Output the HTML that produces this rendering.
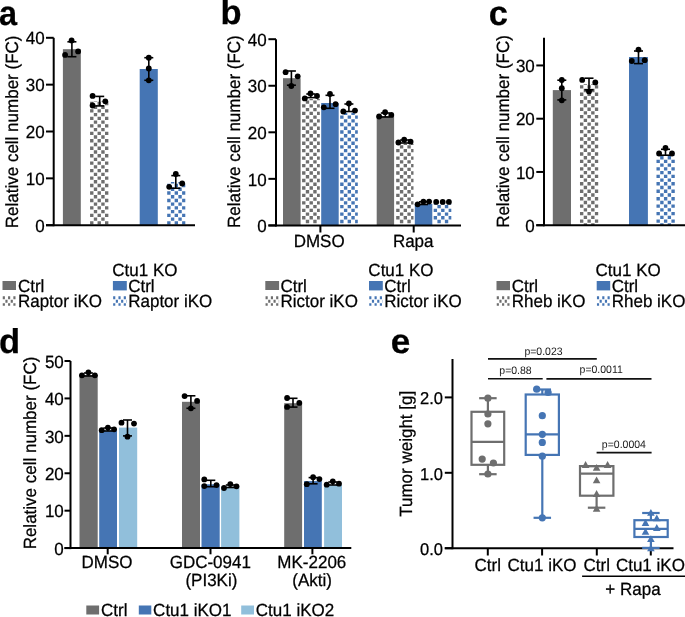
<!DOCTYPE html>
<html><head><meta charset="utf-8"><title>Figure</title>
<style>
html,body{margin:0;padding:0;background:#fff;}
text{stroke:#000;stroke-width:0.25px;}
svg{display:block;font-family:"Liberation Sans",sans-serif;will-change:transform;text-rendering:geometricPrecision;}
</style></head>
<body>
<svg width="685" height="617" viewBox="0 0 685 617">
<defs></defs>
<rect width="685" height="617" fill="#fff"/>
<text x="0" y="0" font-size="34.5" font-weight="bold" transform="translate(-0.9 24.8) scale(0.94 1)">a</text>
<text x="0" y="0" font-size="34.5" font-weight="bold" transform="translate(220.6 24.3) scale(1.0 1)">b</text>
<text x="0" y="0" font-size="34.5" font-weight="bold" transform="translate(488.8 25.1) scale(1.0 1)">c</text>
<text x="0" y="0" font-size="34.5" font-weight="bold" transform="translate(-1 352.6) scale(1.0 1)">d</text>
<text x="0" y="0" font-size="34.5" font-weight="bold" transform="translate(390.7 352.6) scale(1.02 1)">e</text>
<rect x="62.9" y="49.2" width="17.9" height="176" fill="#6e6e6e"/>
<path fill="#6e6e6e" d="M90.08 221.15H93.45V224.52H90.08ZM97.54 221.15H100.91V224.52H97.54ZM105 221.15H108.37V224.52H105ZM93.81 217.42H97.18V220.79H93.81ZM101.27 217.42H104.64V220.79H101.27ZM90.08 213.69H93.45V217.06H90.08ZM97.54 213.69H100.91V217.06H97.54ZM105 213.69H108.37V217.06H105ZM93.81 209.96H97.18V213.33H93.81ZM101.27 209.96H104.64V213.33H101.27ZM90.08 206.23H93.45V209.6H90.08ZM97.54 206.23H100.91V209.6H97.54ZM105 206.23H108.37V209.6H105ZM93.81 202.5H97.18V205.87H93.81ZM101.27 202.5H104.64V205.87H101.27ZM90.08 198.77H93.45V202.14H90.08ZM97.54 198.77H100.91V202.14H97.54ZM105 198.77H108.37V202.14H105ZM93.81 195.04H97.18V198.41H93.81ZM101.27 195.04H104.64V198.41H101.27ZM90.08 191.31H93.45V194.68H90.08ZM97.54 191.31H100.91V194.68H97.54ZM105 191.31H108.37V194.68H105ZM93.81 187.58H97.18V190.95H93.81ZM101.27 187.58H104.64V190.95H101.27ZM90.08 183.85H93.45V187.22H90.08ZM97.54 183.85H100.91V187.22H97.54ZM105 183.85H108.37V187.22H105ZM93.81 180.12H97.18V183.49H93.81ZM101.27 180.12H104.64V183.49H101.27ZM90.08 176.39H93.45V179.76H90.08ZM97.54 176.39H100.91V179.76H97.54ZM105 176.39H108.37V179.76H105ZM93.81 172.66H97.18V176.03H93.81ZM101.27 172.66H104.64V176.03H101.27ZM90.08 168.93H93.45V172.3H90.08ZM97.54 168.93H100.91V172.3H97.54ZM105 168.93H108.37V172.3H105ZM93.81 165.2H97.18V168.57H93.81ZM101.27 165.2H104.64V168.57H101.27ZM90.08 161.47H93.45V164.84H90.08ZM97.54 161.47H100.91V164.84H97.54ZM105 161.47H108.37V164.84H105ZM93.81 157.74H97.18V161.11H93.81ZM101.27 157.74H104.64V161.11H101.27ZM90.08 154.01H93.45V157.38H90.08ZM97.54 154.01H100.91V157.38H97.54ZM105 154.01H108.37V157.38H105ZM93.81 150.28H97.18V153.65H93.81ZM101.27 150.28H104.64V153.65H101.27ZM90.08 146.55H93.45V149.92H90.08ZM97.54 146.55H100.91V149.92H97.54ZM105 146.55H108.37V149.92H105ZM93.81 142.82H97.18V146.19H93.81ZM101.27 142.82H104.64V146.19H101.27ZM90.08 139.09H93.45V142.46H90.08ZM97.54 139.09H100.91V142.46H97.54ZM105 139.09H108.37V142.46H105ZM93.81 135.36H97.18V138.73H93.81ZM101.27 135.36H104.64V138.73H101.27ZM90.08 131.63H93.45V135H90.08ZM97.54 131.63H100.91V135H97.54ZM105 131.63H108.37V135H105ZM93.81 127.9H97.18V131.27H93.81ZM101.27 127.9H104.64V131.27H101.27ZM90.08 124.17H93.45V127.54H90.08ZM97.54 124.17H100.91V127.54H97.54ZM105 124.17H108.37V127.54H105ZM93.81 120.44H97.18V123.81H93.81ZM101.27 120.44H104.64V123.81H101.27ZM90.08 116.71H93.45V120.08H90.08ZM97.54 116.71H100.91V120.08H97.54ZM105 116.71H108.37V120.08H105ZM93.81 112.98H97.18V116.35H93.81ZM101.27 112.98H104.64V116.35H101.27ZM90.08 109.25H93.45V112.62H90.08ZM97.54 109.25H100.91V112.62H97.54ZM105 109.25H108.37V112.62H105ZM93.81 105.52H97.18V108.89H93.81ZM101.27 105.52H104.64V108.89H101.27ZM90.08 101.79H93.45V105.16H90.08ZM97.54 101.79H100.91V105.16H97.54ZM105 101.79H108.37V105.16H105ZM93.81 101H97.18V101.43H93.81ZM101.27 101H104.64V101.43H101.27Z"/>
<rect x="139.7" y="69" width="18.1" height="156.2" fill="#4575b4"/>
<path fill="#4575b4" d="M167.18 221.15H170.55V224.52H167.18ZM174.64 221.15H178.01V224.52H174.64ZM182.1 221.15H185.3V224.52H182.1ZM170.91 217.42H174.28V220.79H170.91ZM178.37 217.42H181.74V220.79H178.37ZM167.18 213.69H170.55V217.06H167.18ZM174.64 213.69H178.01V217.06H174.64ZM182.1 213.69H185.3V217.06H182.1ZM170.91 209.96H174.28V213.33H170.91ZM178.37 209.96H181.74V213.33H178.37ZM167.18 206.23H170.55V209.6H167.18ZM174.64 206.23H178.01V209.6H174.64ZM182.1 206.23H185.3V209.6H182.1ZM170.91 202.5H174.28V205.87H170.91ZM178.37 202.5H181.74V205.87H178.37ZM167.18 198.77H170.55V202.14H167.18ZM174.64 198.77H178.01V202.14H174.64ZM182.1 198.77H185.3V202.14H182.1ZM170.91 195.04H174.28V198.41H170.91ZM178.37 195.04H181.74V198.41H178.37ZM167.18 191.31H170.55V194.68H167.18ZM174.64 191.31H178.01V194.68H174.64ZM182.1 191.31H185.3V194.68H182.1ZM170.91 187.58H174.28V190.95H170.91ZM178.37 187.58H181.74V190.95H178.37ZM167.18 183.85H170.55V187.22H167.18ZM174.64 183.85H178.01V187.22H174.64ZM182.1 183.85H185.3V187.22H182.1ZM170.91 181.9H174.28V183.49H170.91ZM178.37 181.9H181.74V183.49H178.37Z"/>
<line x1="53.7" y1="37.8" x2="53.7" y2="226.2" stroke="#000" stroke-width="2"/>
<line x1="46" y1="225.2" x2="53.7" y2="225.2" stroke="#000" stroke-width="2"/>
<text x="0" y="0" transform="translate(44.6 231.89) scale(1 1.04)" font-size="17" text-anchor="end" font-weight="normal" fill="#000">0</text>
<line x1="46" y1="178.35" x2="53.7" y2="178.35" stroke="#000" stroke-width="2"/>
<text x="0" y="0" transform="translate(44.6 185.04) scale(1 1.04)" font-size="17" text-anchor="end" font-weight="normal" fill="#000">10</text>
<line x1="46" y1="131.5" x2="53.7" y2="131.5" stroke="#000" stroke-width="2"/>
<text x="0" y="0" transform="translate(44.6 138.19) scale(1 1.04)" font-size="17" text-anchor="end" font-weight="normal" fill="#000">20</text>
<line x1="46" y1="84.65" x2="53.7" y2="84.65" stroke="#000" stroke-width="2"/>
<text x="0" y="0" transform="translate(44.6 91.34) scale(1 1.04)" font-size="17" text-anchor="end" font-weight="normal" fill="#000">30</text>
<line x1="46" y1="37.8" x2="53.7" y2="37.8" stroke="#000" stroke-width="2"/>
<text x="0" y="0" transform="translate(44.6 44.49) scale(1 1.04)" font-size="17" text-anchor="end" font-weight="normal" fill="#000">40</text>
<line x1="46" y1="225.2" x2="195" y2="225.2" stroke="#000" stroke-width="2"/>
<text x="0" y="0" font-size="17" text-anchor="middle" transform="translate(17.5 131.9) rotate(-90) scale(1 1.04)">Relative cell number (FC)</text>
<line x1="71.9" y1="41.8" x2="71.9" y2="56.7" stroke="#000" stroke-width="1.6"/>
<line x1="67.4" y1="41.8" x2="76.4" y2="41.8" stroke="#000" stroke-width="1.6"/>
<line x1="67.4" y1="56.7" x2="76.4" y2="56.7" stroke="#000" stroke-width="1.6"/>
<circle cx="71.6" cy="40.4" r="2.9" fill="#000"/>
<circle cx="65.1" cy="54.9" r="2.9" fill="#000"/>
<circle cx="78.1" cy="51.4" r="2.9" fill="#000"/>
<line x1="99.7" y1="96.4" x2="99.7" y2="105.9" stroke="#000" stroke-width="1.6"/>
<line x1="95.2" y1="96.4" x2="104.2" y2="96.4" stroke="#000" stroke-width="1.6"/>
<line x1="95.2" y1="105.9" x2="104.2" y2="105.9" stroke="#000" stroke-width="1.6"/>
<circle cx="92.6" cy="95.9" r="2.9" fill="#000"/>
<circle cx="105.3" cy="101.3" r="2.9" fill="#000"/>
<circle cx="92.6" cy="105.5" r="2.9" fill="#000"/>
<line x1="148.8" y1="57.7" x2="148.8" y2="80.3" stroke="#000" stroke-width="1.6"/>
<line x1="144.3" y1="57.7" x2="153.3" y2="57.7" stroke="#000" stroke-width="1.6"/>
<line x1="144.3" y1="80.3" x2="153.3" y2="80.3" stroke="#000" stroke-width="1.6"/>
<circle cx="148.8" cy="57.7" r="2.9" fill="#000"/>
<circle cx="148.8" cy="68.5" r="2.9" fill="#000"/>
<circle cx="148.8" cy="80.3" r="2.9" fill="#000"/>
<line x1="175.8" y1="175.6" x2="175.8" y2="188.2" stroke="#000" stroke-width="1.6"/>
<line x1="171.3" y1="175.6" x2="180.3" y2="175.6" stroke="#000" stroke-width="1.6"/>
<line x1="171.3" y1="188.2" x2="180.3" y2="188.2" stroke="#000" stroke-width="1.6"/>
<circle cx="175.8" cy="174" r="2.9" fill="#000"/>
<circle cx="182.2" cy="183.5" r="2.9" fill="#000"/>
<circle cx="169.2" cy="186.8" r="2.9" fill="#000"/>
<rect x="2.5" y="281" width="13.5" height="9" fill="#6e6e6e"/>
<text x="0" y="0" transform="translate(17.9 291.5) scale(1 1.04)" font-size="17" text-anchor="start" font-weight="normal" fill="#000">Ctrl</text>
<path fill="#6e6e6e" d="M2.75 296.35H4.9V299.35H2.75ZM8.05 296.35H10.2V299.35H8.05ZM13.35 296.35H15.5V299.35H13.35ZM5.4 299.85H7.55V302.85H5.4ZM10.7 299.85H12.85V302.85H10.7ZM2.75 303.35H4.9V305.8H2.75ZM8.05 303.35H10.2V305.8H8.05ZM13.35 303.35H15.5V305.8H13.35Z"/>
<text x="0" y="0" transform="translate(17.9 306.9) scale(1 1.04)" font-size="17" text-anchor="start" font-weight="normal" fill="#000">Raptor iKO</text>
<text x="0" y="0" transform="translate(112.3 276.4) scale(1 1.04)" font-size="17" text-anchor="start" font-weight="normal" fill="#000">Ctu1 KO</text>
<rect x="112.9" y="281" width="13.9" height="9.4" fill="#4575b4"/>
<text x="0" y="0" transform="translate(128.2 291.5) scale(1 1.04)" font-size="17" text-anchor="start" font-weight="normal" fill="#000">Ctrl</text>
<path fill="#4575b4" d="M113.15 296.35H115.3V299.35H113.15ZM118.45 296.35H120.6V299.35H118.45ZM123.75 296.35H125.9V299.35H123.75ZM115.8 299.85H117.95V302.85H115.8ZM121.1 299.85H123.25V302.85H121.1ZM126.4 299.85H126.8V302.85H126.4ZM113.15 303.35H115.3V305.8H113.15ZM118.45 303.35H120.6V305.8H118.45ZM123.75 303.35H125.9V305.8H123.75Z"/>
<text x="0" y="0" transform="translate(128.2 306.9) scale(1 1.04)" font-size="17" text-anchor="start" font-weight="normal" fill="#000">Raptor iKO</text>
<rect x="283" y="78.2" width="17.6" height="147.2" fill="#6e6e6e"/>
<path fill="#6e6e6e" d="M305.81 219.85H309.18V223.22H305.81ZM313.27 219.85H316.64V223.22H313.27ZM302.08 216.12H305.45V219.49H302.08ZM309.54 216.12H312.91V219.49H309.54ZM317 216.12H319.8V219.49H317ZM305.81 212.39H309.18V215.76H305.81ZM313.27 212.39H316.64V215.76H313.27ZM302.08 208.66H305.45V212.03H302.08ZM309.54 208.66H312.91V212.03H309.54ZM317 208.66H319.8V212.03H317ZM305.81 204.93H309.18V208.3H305.81ZM313.27 204.93H316.64V208.3H313.27ZM302.08 201.2H305.45V204.57H302.08ZM309.54 201.2H312.91V204.57H309.54ZM317 201.2H319.8V204.57H317ZM305.81 197.47H309.18V200.84H305.81ZM313.27 197.47H316.64V200.84H313.27ZM302.08 193.74H305.45V197.11H302.08ZM309.54 193.74H312.91V197.11H309.54ZM317 193.74H319.8V197.11H317ZM305.81 190.01H309.18V193.38H305.81ZM313.27 190.01H316.64V193.38H313.27ZM302.08 186.28H305.45V189.65H302.08ZM309.54 186.28H312.91V189.65H309.54ZM317 186.28H319.8V189.65H317ZM305.81 182.55H309.18V185.92H305.81ZM313.27 182.55H316.64V185.92H313.27ZM302.08 178.82H305.45V182.19H302.08ZM309.54 178.82H312.91V182.19H309.54ZM317 178.82H319.8V182.19H317ZM305.81 175.09H309.18V178.46H305.81ZM313.27 175.09H316.64V178.46H313.27ZM302.08 171.36H305.45V174.73H302.08ZM309.54 171.36H312.91V174.73H309.54ZM317 171.36H319.8V174.73H317ZM305.81 167.63H309.18V171H305.81ZM313.27 167.63H316.64V171H313.27ZM302.08 163.9H305.45V167.27H302.08ZM309.54 163.9H312.91V167.27H309.54ZM317 163.9H319.8V167.27H317ZM305.81 160.17H309.18V163.54H305.81ZM313.27 160.17H316.64V163.54H313.27ZM302.08 156.44H305.45V159.81H302.08ZM309.54 156.44H312.91V159.81H309.54ZM317 156.44H319.8V159.81H317ZM305.81 152.71H309.18V156.08H305.81ZM313.27 152.71H316.64V156.08H313.27ZM302.08 148.98H305.45V152.35H302.08ZM309.54 148.98H312.91V152.35H309.54ZM317 148.98H319.8V152.35H317ZM305.81 145.25H309.18V148.62H305.81ZM313.27 145.25H316.64V148.62H313.27ZM302.08 141.52H305.45V144.89H302.08ZM309.54 141.52H312.91V144.89H309.54ZM317 141.52H319.8V144.89H317ZM305.81 137.79H309.18V141.16H305.81ZM313.27 137.79H316.64V141.16H313.27ZM302.08 134.06H305.45V137.43H302.08ZM309.54 134.06H312.91V137.43H309.54ZM317 134.06H319.8V137.43H317ZM305.81 130.33H309.18V133.7H305.81ZM313.27 130.33H316.64V133.7H313.27ZM302.08 126.6H305.45V129.97H302.08ZM309.54 126.6H312.91V129.97H309.54ZM317 126.6H319.8V129.97H317ZM305.81 122.87H309.18V126.24H305.81ZM313.27 122.87H316.64V126.24H313.27ZM302.08 119.14H305.45V122.51H302.08ZM309.54 119.14H312.91V122.51H309.54ZM317 119.14H319.8V122.51H317ZM305.81 115.41H309.18V118.78H305.81ZM313.27 115.41H316.64V118.78H313.27ZM302.08 111.68H305.45V115.05H302.08ZM309.54 111.68H312.91V115.05H309.54ZM317 111.68H319.8V115.05H317ZM305.81 107.95H309.18V111.32H305.81ZM313.27 107.95H316.64V111.32H313.27ZM302.08 104.22H305.45V107.59H302.08ZM309.54 104.22H312.91V107.59H309.54ZM317 104.22H319.8V107.59H317ZM305.81 100.49H309.18V103.86H305.81ZM313.27 100.49H316.64V103.86H313.27ZM302.08 98.9H305.45V100.13H302.08ZM309.54 98.9H312.91V100.13H309.54ZM317 98.9H319.8V100.13H317Z"/>
<rect x="321.2" y="103" width="17.5" height="122.4" fill="#4575b4"/>
<path fill="#4575b4" d="M340.18 219.85H343.55V223.22H340.18ZM347.64 219.85H351.01V223.22H347.64ZM355.1 219.85H357.8V223.22H355.1ZM343.91 216.12H347.28V219.49H343.91ZM351.37 216.12H354.74V219.49H351.37ZM340.18 212.39H343.55V215.76H340.18ZM347.64 212.39H351.01V215.76H347.64ZM355.1 212.39H357.8V215.76H355.1ZM343.91 208.66H347.28V212.03H343.91ZM351.37 208.66H354.74V212.03H351.37ZM340.18 204.93H343.55V208.3H340.18ZM347.64 204.93H351.01V208.3H347.64ZM355.1 204.93H357.8V208.3H355.1ZM343.91 201.2H347.28V204.57H343.91ZM351.37 201.2H354.74V204.57H351.37ZM340.18 197.47H343.55V200.84H340.18ZM347.64 197.47H351.01V200.84H347.64ZM355.1 197.47H357.8V200.84H355.1ZM343.91 193.74H347.28V197.11H343.91ZM351.37 193.74H354.74V197.11H351.37ZM340.18 190.01H343.55V193.38H340.18ZM347.64 190.01H351.01V193.38H347.64ZM355.1 190.01H357.8V193.38H355.1ZM343.91 186.28H347.28V189.65H343.91ZM351.37 186.28H354.74V189.65H351.37ZM340.18 182.55H343.55V185.92H340.18ZM347.64 182.55H351.01V185.92H347.64ZM355.1 182.55H357.8V185.92H355.1ZM343.91 178.82H347.28V182.19H343.91ZM351.37 178.82H354.74V182.19H351.37ZM340.18 175.09H343.55V178.46H340.18ZM347.64 175.09H351.01V178.46H347.64ZM355.1 175.09H357.8V178.46H355.1ZM343.91 171.36H347.28V174.73H343.91ZM351.37 171.36H354.74V174.73H351.37ZM340.18 167.63H343.55V171H340.18ZM347.64 167.63H351.01V171H347.64ZM355.1 167.63H357.8V171H355.1ZM343.91 163.9H347.28V167.27H343.91ZM351.37 163.9H354.74V167.27H351.37ZM340.18 160.17H343.55V163.54H340.18ZM347.64 160.17H351.01V163.54H347.64ZM355.1 160.17H357.8V163.54H355.1ZM343.91 156.44H347.28V159.81H343.91ZM351.37 156.44H354.74V159.81H351.37ZM340.18 152.71H343.55V156.08H340.18ZM347.64 152.71H351.01V156.08H347.64ZM355.1 152.71H357.8V156.08H355.1ZM343.91 148.98H347.28V152.35H343.91ZM351.37 148.98H354.74V152.35H351.37ZM340.18 145.25H343.55V148.62H340.18ZM347.64 145.25H351.01V148.62H347.64ZM355.1 145.25H357.8V148.62H355.1ZM343.91 141.52H347.28V144.89H343.91ZM351.37 141.52H354.74V144.89H351.37ZM340.18 137.79H343.55V141.16H340.18ZM347.64 137.79H351.01V141.16H347.64ZM355.1 137.79H357.8V141.16H355.1ZM343.91 134.06H347.28V137.43H343.91ZM351.37 134.06H354.74V137.43H351.37ZM340.18 130.33H343.55V133.7H340.18ZM347.64 130.33H351.01V133.7H347.64ZM355.1 130.33H357.8V133.7H355.1ZM343.91 126.6H347.28V129.97H343.91ZM351.37 126.6H354.74V129.97H351.37ZM340.18 122.87H343.55V126.24H340.18ZM347.64 122.87H351.01V126.24H347.64ZM355.1 122.87H357.8V126.24H355.1ZM343.91 119.14H347.28V122.51H343.91ZM351.37 119.14H354.74V122.51H351.37ZM340.18 115.41H343.55V118.78H340.18ZM347.64 115.41H351.01V118.78H347.64ZM355.1 115.41H357.8V118.78H355.1ZM343.91 112.7H347.28V115.05H343.91ZM351.37 112.7H354.74V115.05H351.37Z"/>
<rect x="376.7" y="116.2" width="17.4" height="109.2" fill="#6e6e6e"/>
<path fill="#6e6e6e" d="M399.91 219.85H403.28V223.22H399.91ZM407.37 219.85H410.74V223.22H407.37ZM396.18 216.12H399.55V219.49H396.18ZM403.64 216.12H407.01V219.49H403.64ZM411.1 216.12H413.5V219.49H411.1ZM399.91 212.39H403.28V215.76H399.91ZM407.37 212.39H410.74V215.76H407.37ZM396.18 208.66H399.55V212.03H396.18ZM403.64 208.66H407.01V212.03H403.64ZM411.1 208.66H413.5V212.03H411.1ZM399.91 204.93H403.28V208.3H399.91ZM407.37 204.93H410.74V208.3H407.37ZM396.18 201.2H399.55V204.57H396.18ZM403.64 201.2H407.01V204.57H403.64ZM411.1 201.2H413.5V204.57H411.1ZM399.91 197.47H403.28V200.84H399.91ZM407.37 197.47H410.74V200.84H407.37ZM396.18 193.74H399.55V197.11H396.18ZM403.64 193.74H407.01V197.11H403.64ZM411.1 193.74H413.5V197.11H411.1ZM399.91 190.01H403.28V193.38H399.91ZM407.37 190.01H410.74V193.38H407.37ZM396.18 186.28H399.55V189.65H396.18ZM403.64 186.28H407.01V189.65H403.64ZM411.1 186.28H413.5V189.65H411.1ZM399.91 182.55H403.28V185.92H399.91ZM407.37 182.55H410.74V185.92H407.37ZM396.18 178.82H399.55V182.19H396.18ZM403.64 178.82H407.01V182.19H403.64ZM411.1 178.82H413.5V182.19H411.1ZM399.91 175.09H403.28V178.46H399.91ZM407.37 175.09H410.74V178.46H407.37ZM396.18 171.36H399.55V174.73H396.18ZM403.64 171.36H407.01V174.73H403.64ZM411.1 171.36H413.5V174.73H411.1ZM399.91 167.63H403.28V171H399.91ZM407.37 167.63H410.74V171H407.37ZM396.18 163.9H399.55V167.27H396.18ZM403.64 163.9H407.01V167.27H403.64ZM411.1 163.9H413.5V167.27H411.1ZM399.91 160.17H403.28V163.54H399.91ZM407.37 160.17H410.74V163.54H407.37ZM396.18 156.44H399.55V159.81H396.18ZM403.64 156.44H407.01V159.81H403.64ZM411.1 156.44H413.5V159.81H411.1ZM399.91 152.71H403.28V156.08H399.91ZM407.37 152.71H410.74V156.08H407.37ZM396.18 148.98H399.55V152.35H396.18ZM403.64 148.98H407.01V152.35H403.64ZM411.1 148.98H413.5V152.35H411.1ZM399.91 145.25H403.28V148.62H399.91ZM407.37 145.25H410.74V148.62H407.37ZM396.18 143.8H399.55V144.89H396.18ZM403.64 143.8H407.01V144.89H403.64ZM411.1 143.8H413.5V144.89H411.1Z"/>
<rect x="414.8" y="204" width="17.5" height="21.4" fill="#4575b4"/>
<path fill="#4575b4" d="M437.41 219.85H440.78V223.22H437.41ZM444.87 219.85H448.24V223.22H444.87ZM433.68 216.12H437.05V219.49H433.68ZM441.14 216.12H444.51V219.49H441.14ZM448.6 216.12H451.3V219.49H448.6ZM437.41 212.39H440.78V215.76H437.41ZM444.87 212.39H448.24V215.76H444.87ZM433.68 208.66H437.05V212.03H433.68ZM441.14 208.66H444.51V212.03H441.14ZM448.6 208.66H451.3V212.03H448.6ZM437.41 204.93H440.78V208.3H437.41ZM444.87 204.93H448.24V208.3H444.87ZM433.68 204H437.05V204.57H433.68ZM441.14 204H444.51V204.57H441.14ZM448.6 204H451.3V204.57H448.6Z"/>
<line x1="276" y1="39.2" x2="276" y2="226.4" stroke="#000" stroke-width="2"/>
<line x1="268.4" y1="225.4" x2="276" y2="225.4" stroke="#000" stroke-width="2"/>
<text x="0" y="0" transform="translate(266.6 232.09) scale(1 1.04)" font-size="17" text-anchor="end" font-weight="normal" fill="#000">0</text>
<line x1="268.4" y1="178.85" x2="276" y2="178.85" stroke="#000" stroke-width="2"/>
<text x="0" y="0" transform="translate(266.6 185.54) scale(1 1.04)" font-size="17" text-anchor="end" font-weight="normal" fill="#000">10</text>
<line x1="268.4" y1="132.3" x2="276" y2="132.3" stroke="#000" stroke-width="2"/>
<text x="0" y="0" transform="translate(266.6 138.99) scale(1 1.04)" font-size="17" text-anchor="end" font-weight="normal" fill="#000">20</text>
<line x1="268.4" y1="85.75" x2="276" y2="85.75" stroke="#000" stroke-width="2"/>
<text x="0" y="0" transform="translate(266.6 92.44) scale(1 1.04)" font-size="17" text-anchor="end" font-weight="normal" fill="#000">30</text>
<line x1="268.4" y1="39.2" x2="276" y2="39.2" stroke="#000" stroke-width="2"/>
<text x="0" y="0" transform="translate(266.6 45.89) scale(1 1.04)" font-size="17" text-anchor="end" font-weight="normal" fill="#000">40</text>
<line x1="268.4" y1="225.4" x2="461" y2="225.4" stroke="#000" stroke-width="2"/>
<line x1="320.4" y1="225.4" x2="320.4" y2="232.5" stroke="#000" stroke-width="2"/>
<line x1="413.7" y1="225.4" x2="413.7" y2="232.5" stroke="#000" stroke-width="2"/>
<text x="0" y="0" transform="translate(319.15 247.4) scale(1 1.04)" font-size="17" text-anchor="middle" font-weight="normal" fill="#000">DMSO</text>
<text x="0" y="0" transform="translate(413.2 246.8) scale(1 1.04)" font-size="17" text-anchor="middle" font-weight="normal" fill="#000">Rapa</text>
<text x="0" y="0" font-size="17" text-anchor="middle" transform="translate(240.2 131.6) rotate(-90) scale(1 1.04)">Relative cell number (FC)</text>
<line x1="291.4" y1="71" x2="291.4" y2="85.2" stroke="#000" stroke-width="1.6"/>
<line x1="286.9" y1="71" x2="295.9" y2="71" stroke="#000" stroke-width="1.6"/>
<line x1="286.9" y1="85.2" x2="295.9" y2="85.2" stroke="#000" stroke-width="1.6"/>
<circle cx="285.6" cy="72.2" r="2.9" fill="#000"/>
<circle cx="297.7" cy="76.3" r="2.9" fill="#000"/>
<circle cx="291.3" cy="86" r="2.9" fill="#000"/>
<line x1="310.8" y1="94" x2="310.8" y2="97.6" stroke="#000" stroke-width="1.6"/>
<line x1="306.3" y1="94" x2="315.3" y2="94" stroke="#000" stroke-width="1.6"/>
<line x1="306.3" y1="97.6" x2="315.3" y2="97.6" stroke="#000" stroke-width="1.6"/>
<circle cx="304.8" cy="98.4" r="2.9" fill="#000"/>
<circle cx="310.5" cy="93.5" r="2.9" fill="#000"/>
<circle cx="317" cy="96" r="2.9" fill="#000"/>
<line x1="330" y1="95.3" x2="330" y2="108.3" stroke="#000" stroke-width="1.6"/>
<line x1="325.5" y1="95.3" x2="334.5" y2="95.3" stroke="#000" stroke-width="1.6"/>
<line x1="325.5" y1="108.3" x2="334.5" y2="108.3" stroke="#000" stroke-width="1.6"/>
<circle cx="330" cy="94" r="2.9" fill="#000"/>
<circle cx="323.8" cy="107.3" r="2.9" fill="#000"/>
<circle cx="335.6" cy="104.2" r="2.9" fill="#000"/>
<line x1="348.9" y1="104" x2="348.9" y2="111.5" stroke="#000" stroke-width="1.6"/>
<line x1="344.4" y1="104" x2="353.4" y2="104" stroke="#000" stroke-width="1.6"/>
<line x1="344.4" y1="111.5" x2="353.4" y2="111.5" stroke="#000" stroke-width="1.6"/>
<circle cx="348.9" cy="103.5" r="2.9" fill="#000"/>
<circle cx="343.3" cy="111.5" r="2.9" fill="#000"/>
<circle cx="355" cy="110.6" r="2.9" fill="#000"/>
<line x1="385.3" y1="113" x2="385.3" y2="117" stroke="#000" stroke-width="1.6"/>
<line x1="380.8" y1="113" x2="389.8" y2="113" stroke="#000" stroke-width="1.6"/>
<line x1="380.8" y1="117" x2="389.8" y2="117" stroke="#000" stroke-width="1.6"/>
<circle cx="379.1" cy="116.5" r="2.9" fill="#000"/>
<circle cx="385.1" cy="112.2" r="2.9" fill="#000"/>
<circle cx="391.3" cy="114.9" r="2.9" fill="#000"/>
<line x1="404.6" y1="140" x2="404.6" y2="143" stroke="#000" stroke-width="1.6"/>
<line x1="400.1" y1="140" x2="409.1" y2="140" stroke="#000" stroke-width="1.6"/>
<line x1="400.1" y1="143" x2="409.1" y2="143" stroke="#000" stroke-width="1.6"/>
<circle cx="398.4" cy="142.5" r="2.9" fill="#000"/>
<circle cx="404.2" cy="139.7" r="2.9" fill="#000"/>
<circle cx="410.6" cy="141.7" r="2.9" fill="#000"/>
<line x1="423.5" y1="201.8" x2="423.5" y2="204.5" stroke="#000" stroke-width="1.6"/>
<line x1="419" y1="201.8" x2="428" y2="201.8" stroke="#000" stroke-width="1.6"/>
<line x1="419" y1="204.5" x2="428" y2="204.5" stroke="#000" stroke-width="1.6"/>
<circle cx="417.6" cy="204.3" r="2.9" fill="#000"/>
<circle cx="423.4" cy="201.6" r="2.9" fill="#000"/>
<circle cx="429.1" cy="201.6" r="2.9" fill="#000"/>
<circle cx="436.2" cy="201.9" r="2.9" fill="#000"/>
<circle cx="442.7" cy="201.9" r="2.9" fill="#000"/>
<circle cx="448.9" cy="201.9" r="2.9" fill="#000"/>
<rect x="265.3" y="281" width="13.8" height="9" fill="#6e6e6e"/>
<text x="0" y="0" transform="translate(280.4 291.5) scale(1 1.04)" font-size="17" text-anchor="start" font-weight="normal" fill="#000">Ctrl</text>
<path fill="#6e6e6e" d="M265.55 296.35H267.7V299.35H265.55ZM270.85 296.35H273V299.35H270.85ZM276.15 296.35H278.3V299.35H276.15ZM268.2 299.85H270.35V302.85H268.2ZM273.5 299.85H275.65V302.85H273.5ZM278.8 299.85H279.1V302.85H278.8ZM265.55 303.35H267.7V305.8H265.55ZM270.85 303.35H273V305.8H270.85ZM276.15 303.35H278.3V305.8H276.15Z"/>
<text x="0" y="0" transform="translate(280.4 306.9) scale(1 1.04)" font-size="17" text-anchor="start" font-weight="normal" fill="#000">Rictor iKO</text>
<text x="0" y="0" transform="translate(368.35 276.4) scale(1 1.04)" font-size="17" text-anchor="start" font-weight="normal" fill="#000">Ctu1 KO</text>
<rect x="369" y="281" width="13.8" height="9.4" fill="#4575b4"/>
<text x="0" y="0" transform="translate(384.25 291.5) scale(1 1.04)" font-size="17" text-anchor="start" font-weight="normal" fill="#000">Ctrl</text>
<path fill="#4575b4" d="M369.25 296.35H371.4V299.35H369.25ZM374.55 296.35H376.7V299.35H374.55ZM379.85 296.35H382V299.35H379.85ZM371.9 299.85H374.05V302.85H371.9ZM377.2 299.85H379.35V302.85H377.2ZM382.5 299.85H382.8V302.85H382.5ZM369.25 303.35H371.4V305.8H369.25ZM374.55 303.35H376.7V305.8H374.55ZM379.85 303.35H382V305.8H379.85Z"/>
<text x="0" y="0" transform="translate(384.25 306.9) scale(1 1.04)" font-size="17" text-anchor="start" font-weight="normal" fill="#000">Rictor iKO</text>
<rect x="552.8" y="90.1" width="18.2" height="135.1" fill="#6e6e6e"/>
<path fill="#6e6e6e" d="M583.71 223.15H587.08V225.2H583.71ZM591.17 223.15H594.54V225.2H591.17ZM579.98 219.42H583.35V222.79H579.98ZM587.44 219.42H590.81V222.79H587.44ZM594.9 219.42H598.2V222.79H594.9ZM583.71 215.69H587.08V219.06H583.71ZM591.17 215.69H594.54V219.06H591.17ZM579.98 211.96H583.35V215.33H579.98ZM587.44 211.96H590.81V215.33H587.44ZM594.9 211.96H598.2V215.33H594.9ZM583.71 208.23H587.08V211.6H583.71ZM591.17 208.23H594.54V211.6H591.17ZM579.98 204.5H583.35V207.87H579.98ZM587.44 204.5H590.81V207.87H587.44ZM594.9 204.5H598.2V207.87H594.9ZM583.71 200.77H587.08V204.14H583.71ZM591.17 200.77H594.54V204.14H591.17ZM579.98 197.04H583.35V200.41H579.98ZM587.44 197.04H590.81V200.41H587.44ZM594.9 197.04H598.2V200.41H594.9ZM583.71 193.31H587.08V196.68H583.71ZM591.17 193.31H594.54V196.68H591.17ZM579.98 189.58H583.35V192.95H579.98ZM587.44 189.58H590.81V192.95H587.44ZM594.9 189.58H598.2V192.95H594.9ZM583.71 185.85H587.08V189.22H583.71ZM591.17 185.85H594.54V189.22H591.17ZM579.98 182.12H583.35V185.49H579.98ZM587.44 182.12H590.81V185.49H587.44ZM594.9 182.12H598.2V185.49H594.9ZM583.71 178.39H587.08V181.76H583.71ZM591.17 178.39H594.54V181.76H591.17ZM579.98 174.66H583.35V178.03H579.98ZM587.44 174.66H590.81V178.03H587.44ZM594.9 174.66H598.2V178.03H594.9ZM583.71 170.93H587.08V174.3H583.71ZM591.17 170.93H594.54V174.3H591.17ZM579.98 167.2H583.35V170.57H579.98ZM587.44 167.2H590.81V170.57H587.44ZM594.9 167.2H598.2V170.57H594.9ZM583.71 163.47H587.08V166.84H583.71ZM591.17 163.47H594.54V166.84H591.17ZM579.98 159.74H583.35V163.11H579.98ZM587.44 159.74H590.81V163.11H587.44ZM594.9 159.74H598.2V163.11H594.9ZM583.71 156.01H587.08V159.38H583.71ZM591.17 156.01H594.54V159.38H591.17ZM579.98 152.28H583.35V155.65H579.98ZM587.44 152.28H590.81V155.65H587.44ZM594.9 152.28H598.2V155.65H594.9ZM583.71 148.55H587.08V151.92H583.71ZM591.17 148.55H594.54V151.92H591.17ZM579.98 144.82H583.35V148.19H579.98ZM587.44 144.82H590.81V148.19H587.44ZM594.9 144.82H598.2V148.19H594.9ZM583.71 141.09H587.08V144.46H583.71ZM591.17 141.09H594.54V144.46H591.17ZM579.98 137.36H583.35V140.73H579.98ZM587.44 137.36H590.81V140.73H587.44ZM594.9 137.36H598.2V140.73H594.9ZM583.71 133.63H587.08V137H583.71ZM591.17 133.63H594.54V137H591.17ZM579.98 129.9H583.35V133.27H579.98ZM587.44 129.9H590.81V133.27H587.44ZM594.9 129.9H598.2V133.27H594.9ZM583.71 126.17H587.08V129.54H583.71ZM591.17 126.17H594.54V129.54H591.17ZM579.98 122.44H583.35V125.81H579.98ZM587.44 122.44H590.81V125.81H587.44ZM594.9 122.44H598.2V125.81H594.9ZM583.71 118.71H587.08V122.08H583.71ZM591.17 118.71H594.54V122.08H591.17ZM579.98 114.98H583.35V118.35H579.98ZM587.44 114.98H590.81V118.35H587.44ZM594.9 114.98H598.2V118.35H594.9ZM583.71 111.25H587.08V114.62H583.71ZM591.17 111.25H594.54V114.62H591.17ZM579.98 107.52H583.35V110.89H579.98ZM587.44 107.52H590.81V110.89H587.44ZM594.9 107.52H598.2V110.89H594.9ZM583.71 103.79H587.08V107.16H583.71ZM591.17 103.79H594.54V107.16H591.17ZM579.98 100.06H583.35V103.43H579.98ZM587.44 100.06H590.81V103.43H587.44ZM594.9 100.06H598.2V103.43H594.9ZM583.71 96.33H587.08V99.7H583.71ZM591.17 96.33H594.54V99.7H591.17ZM579.98 92.6H583.35V95.97H579.98ZM587.44 92.6H590.81V95.97H587.44ZM594.9 92.6H598.2V95.97H594.9ZM583.71 88.87H587.08V92.24H583.71ZM591.17 88.87H594.54V92.24H591.17ZM579.98 85.14H583.35V88.51H579.98ZM587.44 85.14H590.81V88.51H587.44ZM594.9 85.14H598.2V88.51H594.9ZM583.71 84H587.08V84.78H583.71ZM591.17 84H594.54V84.78H591.17Z"/>
<rect x="629" y="57" width="18.9" height="168.2" fill="#4575b4"/>
<path fill="#4575b4" d="M660.21 223.15H663.58V225.2H660.21ZM667.67 223.15H671.04V225.2H667.67ZM656.48 219.42H659.85V222.79H656.48ZM663.94 219.42H667.31V222.79H663.94ZM671.4 219.42H674.77V222.79H671.4ZM660.21 215.69H663.58V219.06H660.21ZM667.67 215.69H671.04V219.06H667.67ZM656.48 211.96H659.85V215.33H656.48ZM663.94 211.96H667.31V215.33H663.94ZM671.4 211.96H674.77V215.33H671.4ZM660.21 208.23H663.58V211.6H660.21ZM667.67 208.23H671.04V211.6H667.67ZM656.48 204.5H659.85V207.87H656.48ZM663.94 204.5H667.31V207.87H663.94ZM671.4 204.5H674.77V207.87H671.4ZM660.21 200.77H663.58V204.14H660.21ZM667.67 200.77H671.04V204.14H667.67ZM656.48 197.04H659.85V200.41H656.48ZM663.94 197.04H667.31V200.41H663.94ZM671.4 197.04H674.77V200.41H671.4ZM660.21 193.31H663.58V196.68H660.21ZM667.67 193.31H671.04V196.68H667.67ZM656.48 189.58H659.85V192.95H656.48ZM663.94 189.58H667.31V192.95H663.94ZM671.4 189.58H674.77V192.95H671.4ZM660.21 185.85H663.58V189.22H660.21ZM667.67 185.85H671.04V189.22H667.67ZM656.48 182.12H659.85V185.49H656.48ZM663.94 182.12H667.31V185.49H663.94ZM671.4 182.12H674.77V185.49H671.4ZM660.21 178.39H663.58V181.76H660.21ZM667.67 178.39H671.04V181.76H667.67ZM656.48 174.66H659.85V178.03H656.48ZM663.94 174.66H667.31V178.03H663.94ZM671.4 174.66H674.77V178.03H671.4ZM660.21 170.93H663.58V174.3H660.21ZM667.67 170.93H671.04V174.3H667.67ZM656.48 167.2H659.85V170.57H656.48ZM663.94 167.2H667.31V170.57H663.94ZM671.4 167.2H674.77V170.57H671.4ZM660.21 163.47H663.58V166.84H660.21ZM667.67 163.47H671.04V166.84H667.67ZM656.48 159.74H659.85V163.11H656.48ZM663.94 159.74H667.31V163.11H663.94ZM671.4 159.74H674.77V163.11H671.4ZM660.21 156.01H663.58V159.38H660.21ZM667.67 156.01H671.04V159.38H667.67ZM656.48 155.2H659.85V155.65H656.48ZM663.94 155.2H667.31V155.65H663.94ZM671.4 155.2H674.77V155.65H671.4Z"/>
<line x1="544" y1="37.8" x2="544" y2="226.2" stroke="#000" stroke-width="2"/>
<line x1="536.3" y1="225.2" x2="544" y2="225.2" stroke="#000" stroke-width="2"/>
<text x="0" y="0" transform="translate(534.8 231.89) scale(1 1.04)" font-size="17" text-anchor="end" font-weight="normal" fill="#000">0</text>
<line x1="536.3" y1="171.95" x2="544" y2="171.95" stroke="#000" stroke-width="2"/>
<text x="0" y="0" transform="translate(534.8 178.64) scale(1 1.04)" font-size="17" text-anchor="end" font-weight="normal" fill="#000">10</text>
<line x1="536.3" y1="118.7" x2="544" y2="118.7" stroke="#000" stroke-width="2"/>
<text x="0" y="0" transform="translate(534.8 125.39) scale(1 1.04)" font-size="17" text-anchor="end" font-weight="normal" fill="#000">20</text>
<line x1="536.3" y1="65.45" x2="544" y2="65.45" stroke="#000" stroke-width="2"/>
<text x="0" y="0" transform="translate(534.8 72.14) scale(1 1.04)" font-size="17" text-anchor="end" font-weight="normal" fill="#000">30</text>
<line x1="536.3" y1="225.2" x2="685.5" y2="225.2" stroke="#000" stroke-width="2"/>
<text x="0" y="0" font-size="17" text-anchor="middle" transform="translate(508.8 131.5) rotate(-90) scale(1 1.04)">Relative cell number (FC)</text>
<line x1="561.8" y1="80.2" x2="561.8" y2="99.9" stroke="#000" stroke-width="1.6"/>
<line x1="557.3" y1="80.2" x2="566.3" y2="80.2" stroke="#000" stroke-width="1.6"/>
<line x1="557.3" y1="99.9" x2="566.3" y2="99.9" stroke="#000" stroke-width="1.6"/>
<circle cx="561.8" cy="80" r="2.9" fill="#000"/>
<circle cx="561.8" cy="88.2" r="2.9" fill="#000"/>
<circle cx="561.8" cy="100.3" r="2.9" fill="#000"/>
<line x1="589" y1="78.2" x2="589" y2="89.8" stroke="#000" stroke-width="1.6"/>
<line x1="584.5" y1="78.2" x2="593.5" y2="78.2" stroke="#000" stroke-width="1.6"/>
<line x1="584.5" y1="89.8" x2="593.5" y2="89.8" stroke="#000" stroke-width="1.6"/>
<circle cx="582.2" cy="79.9" r="2.9" fill="#000"/>
<circle cx="595.3" cy="82.4" r="2.9" fill="#000"/>
<circle cx="589" cy="91.4" r="2.9" fill="#000"/>
<line x1="638.5" y1="51" x2="638.5" y2="63.6" stroke="#000" stroke-width="1.6"/>
<line x1="634" y1="51" x2="643" y2="51" stroke="#000" stroke-width="1.6"/>
<line x1="634" y1="63.6" x2="643" y2="63.6" stroke="#000" stroke-width="1.6"/>
<circle cx="638.5" cy="49.6" r="2.9" fill="#000"/>
<circle cx="631.8" cy="61" r="2.9" fill="#000"/>
<circle cx="644.7" cy="60.2" r="2.9" fill="#000"/>
<line x1="665.5" y1="149.3" x2="665.5" y2="155.2" stroke="#000" stroke-width="1.6"/>
<line x1="661" y1="149.3" x2="670" y2="149.3" stroke="#000" stroke-width="1.6"/>
<line x1="661" y1="155.2" x2="670" y2="155.2" stroke="#000" stroke-width="1.6"/>
<circle cx="665.5" cy="147.9" r="2.9" fill="#000"/>
<circle cx="659.1" cy="153.5" r="2.9" fill="#000"/>
<circle cx="672" cy="153.5" r="2.9" fill="#000"/>
<rect x="496.5" y="281" width="13.5" height="9.2" fill="#6e6e6e"/>
<text x="0" y="0" transform="translate(511.7 291.5) scale(1 1.04)" font-size="17" text-anchor="start" font-weight="normal" fill="#000">Ctrl</text>
<path fill="#6e6e6e" d="M496.75 296.35H498.9V299.35H496.75ZM502.05 296.35H504.2V299.35H502.05ZM507.35 296.35H509.5V299.35H507.35ZM499.4 299.85H501.55V302.85H499.4ZM504.7 299.85H506.85V302.85H504.7ZM496.75 303.35H498.9V305.8H496.75ZM502.05 303.35H504.2V305.8H502.05ZM507.35 303.35H509.5V305.8H507.35Z"/>
<text x="0" y="0" transform="translate(511.7 306.9) scale(1 1.04)" font-size="17" text-anchor="start" font-weight="normal" fill="#000">Rheb iKO</text>
<text x="0" y="0" transform="translate(595.55 276.4) scale(1 1.04)" font-size="17" text-anchor="start" font-weight="normal" fill="#000">Ctu1 KO</text>
<rect x="596.7" y="281" width="13.5" height="9.4" fill="#4575b4"/>
<text x="0" y="0" transform="translate(611.7 291.5) scale(1 1.04)" font-size="17" text-anchor="start" font-weight="normal" fill="#000">Ctrl</text>
<path fill="#4575b4" d="M596.95 296.35H599.1V299.35H596.95ZM602.25 296.35H604.4V299.35H602.25ZM607.55 296.35H609.7V299.35H607.55ZM599.6 299.85H601.75V302.85H599.6ZM604.9 299.85H607.05V302.85H604.9ZM596.95 303.35H599.1V305.8H596.95ZM602.25 303.35H604.4V305.8H602.25ZM607.55 303.35H609.7V305.8H607.55Z"/>
<text x="0" y="0" transform="translate(611.7 306.9) scale(1 1.04)" font-size="17" text-anchor="start" font-weight="normal" fill="#000">Rheb iKO</text>
<rect x="79.5" y="375" width="18.2" height="173.1" fill="#6e6e6e"/>
<rect x="99.2" y="430.4" width="17.8" height="117.7" fill="#4575b4"/>
<rect x="119" y="427.6" width="18.2" height="120.5" fill="#91bfdb"/>
<rect x="182" y="401.8" width="18" height="146.3" fill="#6e6e6e"/>
<rect x="201.5" y="484.3" width="18.2" height="63.8" fill="#4575b4"/>
<rect x="221.1" y="486.7" width="18.3" height="61.4" fill="#91bfdb"/>
<rect x="284.2" y="403.2" width="17.9" height="144.9" fill="#6e6e6e"/>
<rect x="304" y="481.1" width="17.8" height="67" fill="#4575b4"/>
<rect x="324.1" y="484.7" width="17.9" height="63.4" fill="#91bfdb"/>
<line x1="70.5" y1="361" x2="70.5" y2="549.1" stroke="#000" stroke-width="2"/>
<line x1="64.5" y1="548.1" x2="70.5" y2="548.1" stroke="#000" stroke-width="2"/>
<text x="0" y="0" transform="translate(63.8 554.79) scale(1 1.04)" font-size="17" text-anchor="end" font-weight="normal" fill="#000">0</text>
<line x1="64.5" y1="510.68" x2="70.5" y2="510.68" stroke="#000" stroke-width="2"/>
<text x="0" y="0" transform="translate(63.8 517.37) scale(1 1.04)" font-size="17" text-anchor="end" font-weight="normal" fill="#000">10</text>
<line x1="64.5" y1="473.26" x2="70.5" y2="473.26" stroke="#000" stroke-width="2"/>
<text x="0" y="0" transform="translate(63.8 479.95) scale(1 1.04)" font-size="17" text-anchor="end" font-weight="normal" fill="#000">20</text>
<line x1="64.5" y1="435.84" x2="70.5" y2="435.84" stroke="#000" stroke-width="2"/>
<text x="0" y="0" transform="translate(63.8 442.53) scale(1 1.04)" font-size="17" text-anchor="end" font-weight="normal" fill="#000">30</text>
<line x1="64.5" y1="398.42" x2="70.5" y2="398.42" stroke="#000" stroke-width="2"/>
<text x="0" y="0" transform="translate(63.8 405.11) scale(1 1.04)" font-size="17" text-anchor="end" font-weight="normal" fill="#000">40</text>
<line x1="64.5" y1="361" x2="70.5" y2="361" stroke="#000" stroke-width="2"/>
<text x="0" y="0" transform="translate(63.8 367.69) scale(1 1.04)" font-size="17" text-anchor="end" font-weight="normal" fill="#000">50</text>
<line x1="64.5" y1="548.1" x2="351.3" y2="548.1" stroke="#000" stroke-width="2"/>
<line x1="107.7" y1="548.1" x2="107.7" y2="554.3" stroke="#000" stroke-width="2"/>
<line x1="210.5" y1="548.1" x2="210.5" y2="554.3" stroke="#000" stroke-width="2"/>
<line x1="312.4" y1="548.1" x2="312.4" y2="554.3" stroke="#000" stroke-width="2"/>
<text x="0" y="0" transform="translate(107.05 568.3) scale(1 1.04)" font-size="17" text-anchor="middle" font-weight="normal" fill="#000">DMSO</text>
<text x="0" y="0" transform="translate(210.3 568.1) scale(1 1.04)" font-size="17" text-anchor="middle" font-weight="normal" fill="#000">GDC-0941</text>
<text x="0" y="0" transform="translate(211.4 585.6) scale(1 1.04)" font-size="17" text-anchor="middle" font-weight="normal" fill="#000">(PI3Ki)</text>
<text x="0" y="0" transform="translate(311.8 568.1) scale(1 1.04)" font-size="17" text-anchor="middle" font-weight="normal" fill="#000">MK-2206</text>
<text x="0" y="0" transform="translate(312.1 585.6) scale(1 1.04)" font-size="17" text-anchor="middle" font-weight="normal" fill="#000">(Akti)</text>
<text x="0" y="0" font-size="17" text-anchor="middle" transform="translate(36 453) rotate(-90) scale(1 1.04)">Relative cell number (FC)</text>
<line x1="88.4" y1="373" x2="88.4" y2="376" stroke="#000" stroke-width="1.6"/>
<line x1="83.9" y1="373" x2="92.9" y2="373" stroke="#000" stroke-width="1.6"/>
<line x1="83.9" y1="376" x2="92.9" y2="376" stroke="#000" stroke-width="1.6"/>
<circle cx="81.9" cy="375.3" r="2.9" fill="#000"/>
<circle cx="88.4" cy="372.3" r="2.9" fill="#000"/>
<circle cx="94.9" cy="375.3" r="2.9" fill="#000"/>
<line x1="107.9" y1="428" x2="107.9" y2="431" stroke="#000" stroke-width="1.6"/>
<line x1="103.4" y1="428" x2="112.4" y2="428" stroke="#000" stroke-width="1.6"/>
<line x1="103.4" y1="431" x2="112.4" y2="431" stroke="#000" stroke-width="1.6"/>
<circle cx="101.7" cy="430.2" r="2.9" fill="#000"/>
<circle cx="107.9" cy="427.6" r="2.9" fill="#000"/>
<circle cx="114.1" cy="429.3" r="2.9" fill="#000"/>
<line x1="127.5" y1="420" x2="127.5" y2="435.9" stroke="#000" stroke-width="1.6"/>
<line x1="123" y1="420" x2="132" y2="420" stroke="#000" stroke-width="1.6"/>
<line x1="123" y1="435.9" x2="132" y2="435.9" stroke="#000" stroke-width="1.6"/>
<circle cx="121.5" cy="422.7" r="2.9" fill="#000"/>
<circle cx="134" cy="423.6" r="2.9" fill="#000"/>
<circle cx="127.5" cy="436.7" r="2.9" fill="#000"/>
<line x1="190.9" y1="395.8" x2="190.9" y2="408.3" stroke="#000" stroke-width="1.6"/>
<line x1="186.4" y1="395.8" x2="195.4" y2="395.8" stroke="#000" stroke-width="1.6"/>
<line x1="186.4" y1="408.3" x2="195.4" y2="408.3" stroke="#000" stroke-width="1.6"/>
<circle cx="184.6" cy="396.1" r="2.9" fill="#000"/>
<circle cx="197.1" cy="400.9" r="2.9" fill="#000"/>
<circle cx="190.9" cy="408.3" r="2.9" fill="#000"/>
<line x1="210.8" y1="480.3" x2="210.8" y2="486.7" stroke="#000" stroke-width="1.6"/>
<line x1="206.3" y1="480.3" x2="215.3" y2="480.3" stroke="#000" stroke-width="1.6"/>
<line x1="206.3" y1="486.7" x2="215.3" y2="486.7" stroke="#000" stroke-width="1.6"/>
<circle cx="204.3" cy="479.4" r="2.9" fill="#000"/>
<circle cx="204.3" cy="486.1" r="2.9" fill="#000"/>
<circle cx="216.5" cy="485.1" r="2.9" fill="#000"/>
<line x1="230.3" y1="485" x2="230.3" y2="487.5" stroke="#000" stroke-width="1.6"/>
<line x1="225.8" y1="485" x2="234.8" y2="485" stroke="#000" stroke-width="1.6"/>
<line x1="225.8" y1="487.5" x2="234.8" y2="487.5" stroke="#000" stroke-width="1.6"/>
<circle cx="224" cy="488" r="2.9" fill="#000"/>
<circle cx="230.3" cy="484.1" r="2.9" fill="#000"/>
<circle cx="236.5" cy="486.3" r="2.9" fill="#000"/>
<line x1="293" y1="398.3" x2="293" y2="407.1" stroke="#000" stroke-width="1.6"/>
<line x1="288.5" y1="398.3" x2="297.5" y2="398.3" stroke="#000" stroke-width="1.6"/>
<line x1="288.5" y1="407.1" x2="297.5" y2="407.1" stroke="#000" stroke-width="1.6"/>
<circle cx="287.1" cy="398" r="2.9" fill="#000"/>
<circle cx="287.1" cy="406.9" r="2.9" fill="#000"/>
<circle cx="299.3" cy="402.9" r="2.9" fill="#000"/>
<line x1="313.1" y1="477.6" x2="313.1" y2="483.8" stroke="#000" stroke-width="1.6"/>
<line x1="308.6" y1="477.6" x2="317.6" y2="477.6" stroke="#000" stroke-width="1.6"/>
<line x1="308.6" y1="483.8" x2="317.6" y2="483.8" stroke="#000" stroke-width="1.6"/>
<circle cx="313.1" cy="477.2" r="2.9" fill="#000"/>
<circle cx="306.8" cy="484.2" r="2.9" fill="#000"/>
<circle cx="319.4" cy="479.1" r="2.9" fill="#000"/>
<line x1="332.8" y1="482" x2="332.8" y2="485" stroke="#000" stroke-width="1.6"/>
<line x1="328.3" y1="482" x2="337.3" y2="482" stroke="#000" stroke-width="1.6"/>
<line x1="328.3" y1="485" x2="337.3" y2="485" stroke="#000" stroke-width="1.6"/>
<circle cx="326.7" cy="484.7" r="2.9" fill="#000"/>
<circle cx="332.8" cy="481.3" r="2.9" fill="#000"/>
<circle cx="339" cy="483.7" r="2.9" fill="#000"/>
<rect x="86.3" y="605.5" width="12.8" height="9" fill="#6e6e6e"/>
<text x="0" y="0" transform="translate(101 615.5) scale(1 1.04)" font-size="17" text-anchor="start" font-weight="normal" fill="#000">Ctrl</text>
<rect x="138.8" y="605.5" width="12.5" height="9" fill="#4575b4"/>
<text x="0" y="0" transform="translate(153.1 615.5) scale(1 1.04)" font-size="17" text-anchor="start" font-weight="normal" fill="#000">Ctu1 iKO1</text>
<rect x="241.2" y="605.5" width="12.8" height="9" fill="#91bfdb"/>
<text x="0" y="0" transform="translate(255.8 615.5) scale(1 1.04)" font-size="17" text-anchor="start" font-weight="normal" fill="#000">Ctu1 iKO2</text>
<line x1="452.5" y1="359" x2="452.5" y2="549.2" stroke="#000" stroke-width="2"/>
<line x1="444.8" y1="548.2" x2="452.5" y2="548.2" stroke="#000" stroke-width="2"/>
<text x="0" y="0" transform="translate(443 555.01) scale(1 1.04)" font-size="16.5" text-anchor="end" font-weight="normal" fill="#000">0.0</text>
<line x1="444.8" y1="472.8" x2="452.5" y2="472.8" stroke="#000" stroke-width="2"/>
<text x="0" y="0" transform="translate(443 479.61) scale(1 1.04)" font-size="16.5" text-anchor="end" font-weight="normal" fill="#000">1.0</text>
<line x1="444.8" y1="397.4" x2="452.5" y2="397.4" stroke="#000" stroke-width="2"/>
<text x="0" y="0" transform="translate(443 404.21) scale(1 1.04)" font-size="16.5" text-anchor="end" font-weight="normal" fill="#000">2.0</text>
<line x1="444.8" y1="548.2" x2="673.5" y2="548.2" stroke="#000" stroke-width="2"/>
<line x1="487.8" y1="548.2" x2="487.8" y2="555.5" stroke="#000" stroke-width="2"/>
<line x1="542.1" y1="548.2" x2="542.1" y2="555.5" stroke="#000" stroke-width="2"/>
<line x1="596.8" y1="548.2" x2="596.8" y2="555.5" stroke="#000" stroke-width="2"/>
<line x1="650.8" y1="548.2" x2="650.8" y2="555.5" stroke="#000" stroke-width="2"/>
<text x="0" y="0" transform="translate(487.8 570.8) scale(1 1.04)" font-size="17" text-anchor="middle" font-weight="normal" fill="#000">Ctrl</text>
<text x="0" y="0" transform="translate(542 570.8) scale(1 1.04)" font-size="17" text-anchor="middle" font-weight="normal" fill="#000">Ctu1 iKO</text>
<text x="0" y="0" transform="translate(596.8 570.8) scale(1 1.04)" font-size="17" text-anchor="middle" font-weight="normal" fill="#000">Ctrl</text>
<text x="0" y="0" transform="translate(650.4 570.8) scale(1 1.04)" font-size="17" text-anchor="middle" font-weight="normal" fill="#000">Ctu1 iKO</text>
<line x1="582.1" y1="576.3" x2="686" y2="576.3" stroke="#000" stroke-width="1.5"/>
<text x="0" y="0" transform="translate(633 595.2) scale(1 1.04)" font-size="17" text-anchor="middle" font-weight="normal" fill="#000">+ Rapa</text>
<text x="0" y="0" font-size="17" text-anchor="middle" transform="translate(412.4 453.8) rotate(-90) scale(1 1.04)">Tumor weight [g]</text>
<line x1="487.9" y1="398.2" x2="487.9" y2="411.8" stroke="#6e6e6e" stroke-width="2.2"/>
<line x1="487.9" y1="464.8" x2="487.9" y2="474.2" stroke="#6e6e6e" stroke-width="2.2"/>
<line x1="479.15" y1="398.2" x2="496.65" y2="398.2" stroke="#6e6e6e" stroke-width="2.2"/>
<line x1="479.15" y1="474.2" x2="496.65" y2="474.2" stroke="#6e6e6e" stroke-width="2.2"/>
<rect x="471.5" y="411.8" width="32.7" height="53" fill="none" stroke="#6e6e6e" stroke-width="2.2"/>
<line x1="471.5" y1="441.8" x2="504.2" y2="441.8" stroke="#6e6e6e" stroke-width="2.2"/>
<circle cx="487.9" cy="398.2" r="3.6" fill="#6e6e6e"/>
<circle cx="487.9" cy="414" r="3.6" fill="#6e6e6e"/>
<circle cx="487.9" cy="423.8" r="3.6" fill="#6e6e6e"/>
<circle cx="482.2" cy="459.1" r="3.6" fill="#6e6e6e"/>
<circle cx="493.4" cy="463" r="3.6" fill="#6e6e6e"/>
<circle cx="487.9" cy="474" r="3.6" fill="#6e6e6e"/>
<line x1="542.3" y1="389.5" x2="542.3" y2="394.5" stroke="#4575b4" stroke-width="2.2"/>
<line x1="542.3" y1="454.9" x2="542.3" y2="517.8" stroke="#4575b4" stroke-width="2.2"/>
<line x1="533.55" y1="389.5" x2="551.05" y2="389.5" stroke="#4575b4" stroke-width="2.2"/>
<line x1="533.55" y1="517.8" x2="551.05" y2="517.8" stroke="#4575b4" stroke-width="2.2"/>
<rect x="525.7" y="394.5" width="33.2" height="60.4" fill="none" stroke="#4575b4" stroke-width="2.2"/>
<line x1="525.7" y1="434.3" x2="558.9" y2="434.3" stroke="#4575b4" stroke-width="2.2"/>
<circle cx="536.7" cy="389.2" r="3.6" fill="#4575b4"/>
<circle cx="548.1" cy="392.5" r="3.6" fill="#4575b4"/>
<circle cx="542.3" cy="415.7" r="3.6" fill="#4575b4"/>
<circle cx="542.3" cy="434.3" r="3.6" fill="#4575b4"/>
<circle cx="542.3" cy="442.4" r="3.6" fill="#4575b4"/>
<circle cx="542.3" cy="456.2" r="3.6" fill="#4575b4"/>
<circle cx="542.3" cy="517.8" r="3.6" fill="#4575b4"/>
<line x1="596.6" y1="466.1" x2="596.6" y2="466.1" stroke="#6e6e6e" stroke-width="2.2"/>
<line x1="596.6" y1="495.7" x2="596.6" y2="507.7" stroke="#6e6e6e" stroke-width="2.2"/>
<line x1="587.85" y1="466.1" x2="605.35" y2="466.1" stroke="#6e6e6e" stroke-width="2.2"/>
<line x1="587.85" y1="507.7" x2="605.35" y2="507.7" stroke="#6e6e6e" stroke-width="2.2"/>
<rect x="580" y="466.1" width="33.4" height="29.6" fill="none" stroke="#6e6e6e" stroke-width="2.2"/>
<line x1="580" y1="473.7" x2="613.4" y2="473.7" stroke="#6e6e6e" stroke-width="2.2"/>
<path d="M585.6 461.12L589.4 467.92L581.8 467.92Z" fill="#6e6e6e"/>
<path d="M596.6 463.92L600.4 470.72L592.8 470.72Z" fill="#6e6e6e"/>
<path d="M607.6 461.12L611.4 467.92L603.8 467.92Z" fill="#6e6e6e"/>
<path d="M596.6 476.42L600.4 483.22L592.8 483.22Z" fill="#6e6e6e"/>
<path d="M596.6 490.12L600.4 496.92L592.8 496.92Z" fill="#6e6e6e"/>
<path d="M596.6 504.92L600.4 511.72L592.8 511.72Z" fill="#6e6e6e"/>
<line x1="650.9" y1="513" x2="650.9" y2="520.2" stroke="#4575b4" stroke-width="2.2"/>
<line x1="650.9" y1="537" x2="650.9" y2="547.9" stroke="#4575b4" stroke-width="2.2"/>
<line x1="642.15" y1="513" x2="659.65" y2="513" stroke="#4575b4" stroke-width="2.2"/>
<line x1="642.15" y1="547.9" x2="659.65" y2="547.9" stroke="#4575b4" stroke-width="2.2"/>
<rect x="634.4" y="520.2" width="33.3" height="16.8" fill="none" stroke="#4575b4" stroke-width="2.2"/>
<line x1="634.4" y1="528.9" x2="667.7" y2="528.9" stroke="#4575b4" stroke-width="2.2"/>
<path d="M650.9 508.92L654.7 515.72L647.1 515.72Z" fill="#4575b4"/>
<path d="M656.8 514.42L660.6 521.22L653 521.22Z" fill="#4575b4"/>
<path d="M645.5 519.12L649.3 525.92L641.7 525.92Z" fill="#4575b4"/>
<path d="M656.8 524.12L660.6 530.92L653 530.92Z" fill="#4575b4"/>
<path d="M645.5 528.02L649.3 534.82L641.7 534.82Z" fill="#4575b4"/>
<path d="M650.9 535.32L654.7 542.12L647.1 542.12Z" fill="#4575b4"/>
<path d="M650.9 544.52L654.7 551.32L647.1 551.32Z" fill="#4575b4"/>
<line x1="488" y1="358.9" x2="596.8" y2="358.9" stroke="#111" stroke-width="1.6"/>
<line x1="488" y1="378.7" x2="542.7" y2="378.7" stroke="#111" stroke-width="1.6"/>
<line x1="546.4" y1="378.9" x2="651.5" y2="378.9" stroke="#111" stroke-width="1.6"/>
<line x1="596.6" y1="452.6" x2="651.6" y2="452.6" stroke="#111" stroke-width="1.6"/>
<text x="0" y="0" transform="translate(543.5 354.6) scale(1 1.04)" font-size="10.5" text-anchor="middle" font-weight="normal" fill="#1a1a1a" style="stroke:none">p=0.023</text>
<text x="0" y="0" transform="translate(515.5 374.2) scale(1 1.04)" font-size="10.5" text-anchor="middle" font-weight="normal" fill="#1a1a1a" style="stroke:none">p=0.88</text>
<text x="0" y="0" transform="translate(601.2 372.9) scale(1 1.04)" font-size="10.5" text-anchor="middle" font-weight="normal" fill="#1a1a1a" style="stroke:none">p=0.0011</text>
<text x="0" y="0" transform="translate(623.9 448.2) scale(1 1.04)" font-size="10.5" text-anchor="middle" font-weight="normal" fill="#1a1a1a" style="stroke:none">p=0.0004</text>
</svg>
</body></html>
